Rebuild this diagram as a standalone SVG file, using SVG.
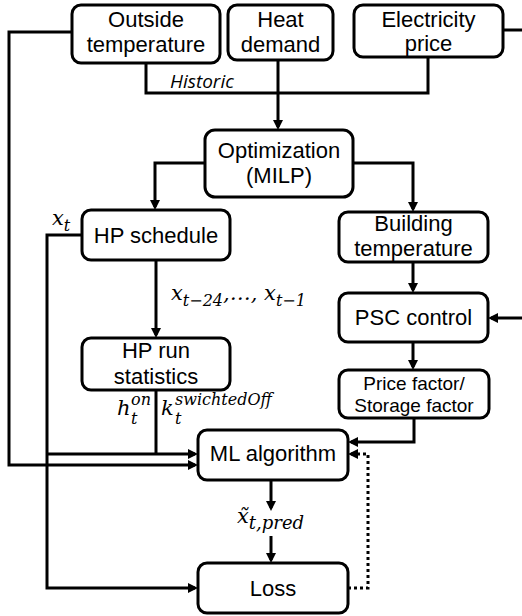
<svg xmlns="http://www.w3.org/2000/svg" width="522" height="616" viewBox="0 0 522 616">
<style>
.box{fill:#fff;stroke:#000;stroke-width:3}
.t{font-family:"Liberation Sans",Arial,sans-serif;font-size:22px;fill:#000;text-anchor:middle}
.ts{font-size:19px}
.ln{fill:none;stroke:#000;stroke-width:3}
.dot{stroke-dasharray:3 3}
.m{font-family:"DejaVu Serif","Liberation Serif",serif;font-style:italic;font-size:21px;fill:#000}
.sb{font-size:16px}
.hist{font-family:"Open Sans","Noto Sans",sans-serif;font-style:italic;font-size:19px;fill:#000}
</style>
<defs>
<marker id="ah" viewBox="0 0 10 10" markerWidth="10" markerHeight="10" refX="7" refY="5" orient="auto" markerUnits="userSpaceOnUse">
<path d="M0,0 L10,5 L0,10 z" fill="#000"/>
</marker>
</defs>
<g id="connectors">
<path class="ln" d="M72,32 H9 V465 H195" marker-end="url(#ah)"/>
<path class="ln" d="M146,63 V93 H428 V57"/>
<path class="ln" d="M503,30 H522"/>
<path class="ln" d="M278,60 V127" marker-end="url(#ah)"/>
<path class="ln" d="M205,163 H155 V207" marker-end="url(#ah)"/>
<path class="ln" d="M353,163 H413 V209" marker-end="url(#ah)"/>
<path class="ln" d="M413,262 V290" marker-end="url(#ah)"/>
<path class="ln" d="M522,318 H491" marker-end="url(#ah)"/>
<path class="ln" d="M413,342 V367" marker-end="url(#ah)"/>
<path class="ln" d="M414,418 V442 H351" marker-end="url(#ah)"/>
<path class="ln" d="M82,235 H47 V588 H195" marker-end="url(#ah)"/>
<path class="ln" d="M47,454 H195" marker-end="url(#ah)"/>
<path class="ln" d="M156,260 V335" marker-end="url(#ah)"/>
<path class="ln" d="M156,390 V454"/>
<path class="ln" d="M271,480 V508" marker-end="url(#ah)"/>
<path class="ln" d="M271,536 V560" marker-end="url(#ah)"/>
<path class="ln dot" d="M348,588 H368 V454 H351" marker-end="url(#ah)"/>
</g>
<g id="outside-temperature">
<rect class="box" x="72" y="5" width="148" height="58" rx="9"/>
<text class="t" x="146" y="27">Outside</text>
<text class="t" x="146" y="52">temperature</text>
</g>
<g id="heat-demand">
<rect class="box" x="228" y="5" width="105" height="55" rx="9"/>
<text class="t" x="280.5" y="27">Heat</text>
<text class="t" x="280.5" y="52">demand</text>
</g>
<g id="electricity-price">
<rect class="box" x="354" y="5" width="149" height="52" rx="9"/>
<text class="t" x="428.5" y="27">Electricity</text>
<text class="t" x="428.5" y="51">price</text>
</g>
<text class="hist" x="170" y="88">Historic</text>
<g id="optimization">
<rect class="box" x="205" y="130" width="148" height="67" rx="10"/>
<text class="t" x="279" y="158">Optimization</text>
<text class="t" x="279" y="183">(MILP)</text>
</g>
<g id="hp-schedule">
<rect class="box" x="82" y="210" width="148" height="50" rx="9"/>
<text class="t" x="156" y="243">HP schedule</text>
</g>
<g id="building-temperature">
<rect class="box" x="339" y="212" width="149" height="50" rx="9"/>
<text class="t" x="413.5" y="231">Building</text>
<text class="t" x="413.5" y="256">temperature</text>
</g>
<g id="psc-control">
<rect class="box" x="339" y="293" width="149" height="49" rx="9"/>
<text class="t" x="413.5" y="325">PSC control</text>
</g>
<g id="price-factor">
<rect class="box" x="339" y="370" width="150" height="48" rx="9"/>
<text class="t ts" x="414" y="390">Price factor/</text>
<text class="t ts" x="414" y="412">Storage factor</text>
</g>
<g id="hp-run-statistics">
<rect class="box" x="82" y="338" width="148" height="52" rx="9"/>
<text class="t" x="156" y="358">HP run</text>
<text class="t" x="156" y="384">statistics</text>
</g>
<g id="ml-algorithm">
<rect class="box" x="198" y="430" width="150" height="50" rx="9"/>
<text class="t" x="273" y="461">ML algorithm</text>
</g>
<g id="loss">
<rect class="box" x="198" y="563" width="150" height="50" rx="9"/>
<text class="t" x="273" y="596">Loss</text>
</g>
<g id="labels">
<text class="m" x="52" y="225">x<tspan class="sb" y="231">t</tspan></text>
<text class="m" x="171" y="300">x<tspan class="sb" y="306">t−24</tspan><tspan y="300">,…, x</tspan><tspan class="sb" y="306">t−1</tspan></text>
<text class="m" x="117" y="415">h<tspan class="sb" x="131" y="405">on</tspan><tspan class="sb" x="131" y="424">t</tspan></text>
<text class="m" x="161" y="415">k<tspan class="sb" x="175" y="405">swichtedOff</tspan><tspan class="sb" x="175" y="424">t</tspan></text>
<text class="m" x="237" y="523">x̃<tspan class="sb" y="529" style="font-size:18px">t,pred</tspan></text>
</g>
</svg>
